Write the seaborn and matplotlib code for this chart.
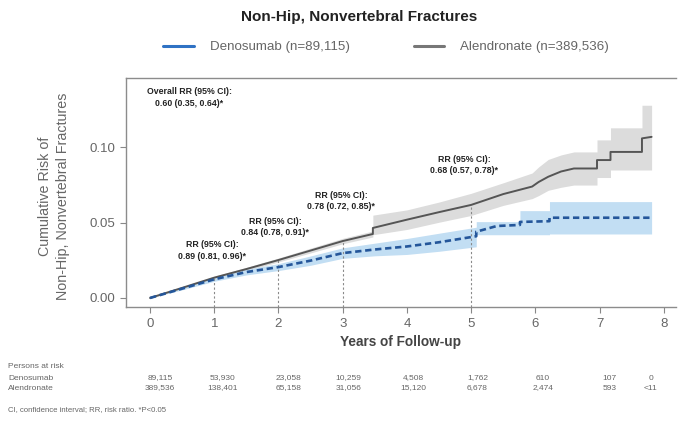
import numpy as np
import pandas as pd
import matplotlib
matplotlib.use("Agg")
import matplotlib.pyplot as plt
import matplotlib.transforms as mtransforms
from matplotlib.lines import Line2D
import seaborn as sns

# ---------------- data ----------------
title = "Non-Hip, Nonvertebral Fractures"
series_names = ["Denosumab (n=89,115)", "Alendronate (n=389,536)"]

# Denosumab: cumulative risk (repeated times = vertical jumps)
dmab_t = [0, 0.5, 1.0, 1.5, 2.0, 2.5, 3.0, 3.5, 4.0, 4.5, 5.08, 5.08, 5.4,
          5.76, 5.76, 6.22, 6.22, 7.81]
dmab_v = [0, 0.0062, 0.0124, 0.0172, 0.0205, 0.0248, 0.0298, 0.0322, 0.0342,
          0.037, 0.041, 0.044, 0.0478, 0.0485, 0.0505, 0.051, 0.0533, 0.0533]
dmab_lo = [0, 0.0054, 0.0111, 0.0153, 0.0182, 0.0217, 0.0263, 0.028, 0.0289,
           0.031, 0.034, 0.042, 0.042, 0.042, 0.042, 0.042, 0.0425, 0.0425]
dmab_hi = [0, 0.007, 0.0137, 0.0191, 0.0228, 0.0279, 0.0333, 0.0364, 0.0395,
           0.043, 0.047, 0.0507, 0.0507, 0.0507, 0.058, 0.058, 0.064, 0.064]

# Alendronate
alen_t = [0, 0.5, 1.0, 1.5, 2.0, 2.5, 3.0, 3.47, 3.47, 4.0, 4.5, 5.0, 5.5,
          5.95, 6.05, 6.2, 6.4, 6.6, 6.96, 6.96, 7.17, 7.17, 7.66, 7.66, 7.81]
alen_v = [0, 0.0067, 0.0135, 0.0192, 0.0252, 0.0315, 0.0378, 0.0425, 0.0465,
          0.052, 0.057, 0.0618, 0.069, 0.074, 0.077, 0.0805, 0.084, 0.086,
          0.086, 0.0916, 0.0916, 0.097, 0.097, 0.106, 0.107]
alen_lo = [0, 0.006, 0.0126, 0.0181, 0.0239, 0.0299, 0.036, 0.0405, 0.042,
           0.0455, 0.0503, 0.0548, 0.0615, 0.066, 0.068, 0.0715, 0.0735, 0.075,
           0.075, 0.080, 0.080, 0.085, 0.085, 0.085, 0.085]
alen_hi = [0, 0.0074, 0.0144, 0.0203, 0.0265, 0.0331, 0.0396, 0.0445, 0.055,
           0.0585, 0.0637, 0.0695, 0.0765, 0.083, 0.087, 0.092, 0.095, 0.097,
           0.097, 0.105, 0.105, 0.113, 0.113, 0.128, 0.128]

# RR annotations
rr_labels = ["Overall RR (95% CI):\n0.60 (0.35, 0.64)*",
             "RR (95% CI):\n0.89 (0.81, 0.96)*",
             "RR (95% CI):\n0.84 (0.78, 0.91)*",
             "RR (95% CI):\n0.78 (0.72, 0.85)*",
             "RR (95% CI):\n0.68 (0.57, 0.78)*"]
rr_x = [0.61, 0.97, 1.95, 2.98, 4.89]
rr_y = [0.133, 0.0315, 0.0473, 0.0643, 0.0883]

# vertical reference marks (year, alendronate risk)
mark_years = [1, 2, 3, 5]
mark_vals = [0.0135, 0.0252, 0.0378, 0.0618]

# persons at risk
risk_groups = ["Denosumab", "Alendronate"]
risk_dmab = ["89,115", "53,930", "23,058", "10,259", "4,508", "1,762", "610", "107", "0"]
risk_alen = ["389,536", "138,401", "65,158", "31,056", "15,120", "6,678", "2,474", "593", "<11"]
risk_pos = [0.16, 1.13, 2.15, 3.09, 4.1, 5.1, 6.12, 7.15, 7.8]

x_ticks = [0, 1, 2, 3, 4, 5, 6, 7, 8]
y_ticks = [0.00, 0.05, 0.10]
y_ticklabels = ["0.00", "0.05", "0.10"]

# ---------------- style ----------------
sns.set_style("white")
plt.rcParams["font.family"] = ["Liberation Sans", "DejaVu Sans"]

BLUE = "#24569a"
BLUE_LEG = "#2f72c4"
BLUE_BAND = "#c2def3"
GRAY = "#555555"
GRAY_BAND = "#dcdcdc"
TXT = "#666666"

fig = plt.figure(figsize=(6.78, 4.21), dpi=100)
ax = fig.add_axes([126 / 678, 1 - 307 / 421, 550 / 678, (307 - 78) / 421])

ax.fill_between(alen_t, alen_lo, alen_hi, color=GRAY_BAND, lw=0, zorder=1)
ax.fill_between(dmab_t, dmab_lo, dmab_hi, color=BLUE_BAND, lw=0, zorder=2)

df_a = pd.DataFrame({"t": alen_t, "v": alen_v})
df_d = pd.DataFrame({"t": dmab_t, "v": dmab_v})
sns.lineplot(data=df_a, x="t", y="v", ax=ax, color=GRAY, lw=1.4,
             estimator=None, errorbar=None, sort=False, zorder=4)
sns.lineplot(data=df_d, x="t", y="v", ax=ax, color=BLUE, lw=1.9,
             linestyle=(0, (2.4, 1.4)),
             estimator=None, errorbar=None, sort=False, zorder=5)

ylo, yhi = -0.006, 0.1461
ax.vlines(mark_years, ylo, mark_vals, colors="#8a8a8a", linestyles=(0, (2, 2)), lw=0.8, zorder=3)

for lab, x, y in zip(rr_labels, rr_x, rr_y):
    ax.text(x, y, lab, ha="center", va="center", fontsize=6.3, fontweight="bold",
            color="#222222", linespacing=1.35, zorder=6)

ax.set_xlim(-0.374, 8.19)
ax.set_ylim(ylo, yhi)
ax.set_xticks(x_ticks)
ax.set_yticks(y_ticks)
ax.set_yticklabels(y_ticklabels)
ax.set_xlabel("")
ax.set_ylabel("")
ax.tick_params(axis="both", which="both", direction="out", length=4, width=0.8,
               color="#888888", labelcolor=TXT, labelsize=9.5, pad=4,
               bottom=True, left=True)
for s in ["left", "bottom", "top"]:
    ax.spines[s].set_color("#8c8c8c")
    ax.spines[s].set_linewidth(1.0)
ax.spines["right"].set_visible(False)

# title, legend, labels
fig.text(359 / 678, 1 - 17 / 421, title, ha="center", va="center", fontsize=11,
         fontweight="bold", color="#222222")
handles = [Line2D([0], [0], color=BLUE_LEG, lw=2.2),
           Line2D([0], [0], color="#777777", lw=2.2)]
leg = fig.legend(handles, series_names, loc="center", bbox_to_anchor=(386 / 678, 1 - 47 / 421),
                 ncol=2, frameon=False, fontsize=9.6, handlelength=2.3, handletextpad=1.2,
                 columnspacing=4.8)
for t in leg.get_texts():
    t.set_color(TXT)

fig.text(54 / 678, 1 - 196 / 421, "Cumulative Risk of\nNon-Hip, Nonvertebral Fractures",
         rotation=90, ha="center", va="center", fontsize=10.3, color=TXT, linespacing=1.35)
fig.text(401 / 678, 1 - 342 / 421, "Years of Follow-up", ha="center", va="center",
         fontsize=9.8, fontweight="bold", color="#444444")

# persons at risk table
tr = mtransforms.blended_transform_factory(ax.transData, fig.transFigure)
fig.text(8 / 678, 1 - 367 / 421, "Persons at risk", ha="left", va="center", fontsize=6, color=TXT)
row_y = [1 - 378 / 421, 1 - 388 / 421]
for name, vals, yy in zip(risk_groups, [risk_dmab, risk_alen], row_y):
    fig.text(8 / 678, yy, name, ha="left", va="center", fontsize=6, color=TXT)
    for x, v in zip(risk_pos, vals):
        ax.text(x, yy, v, transform=tr, ha="center", va="center", fontsize=6, color=TXT,
                clip_on=False)
fig.text(8 / 678, 1 - 410 / 421, "CI, confidence interval; RR, risk ratio. *P<0.05",
         ha="left", va="center", fontsize=5.6, color=TXT)

fig.savefig("out.png", dpi=100)
